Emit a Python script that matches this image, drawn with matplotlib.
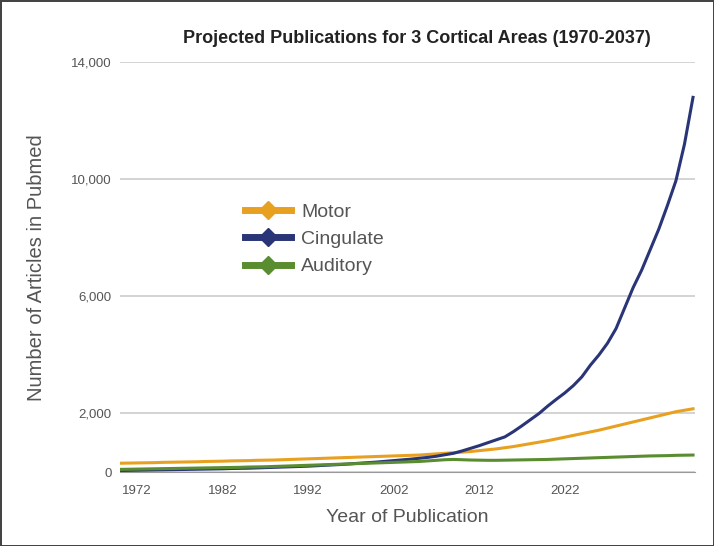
import numpy as np
import matplotlib.pyplot as plt

plt.rcParams['font.family'] = ['Liberation Sans', 'DejaVu Sans']

# data (values per year)
years = list(range(1970, 2038))
cingulate = [50, 55, 60, 65, 70, 75, 80, 85, 90, 95,
             100, 105, 110, 120, 125, 130, 140, 150, 160, 170,
             180, 190, 200, 215, 230, 245, 260, 280, 300, 320,
             340, 365, 390, 415, 440, 470, 500, 540, 590, 640,
             720, 810, 900, 1000, 1100, 1200, 1380, 1580, 1790, 2000,
             2250, 2480, 2700, 2950, 3250, 3650, 4000, 4400, 4900, 5600,
             6300, 6900, 7600, 8300, 9100, 9950, 11200, 12800]
motor = [300, 305, 310, 315, 320, 330, 335, 340, 345, 350,
         360, 365, 370, 380, 385, 390, 400, 405, 410, 420,
         430, 440, 450, 460, 470, 480, 490, 500, 510, 520,
         530, 540, 550, 560, 570, 580, 600, 620, 640, 660,
         680, 700, 730, 760, 790, 830, 870, 920, 970, 1020,
         1070, 1130, 1190, 1250, 1310, 1370, 1430, 1500, 1570, 1640,
         1710, 1780, 1850, 1920, 1990, 2060, 2110, 2160]
auditory = [90, 95, 100, 105, 110, 115, 120, 125, 130, 135,
            140, 145, 150, 155, 160, 170, 175, 180, 190, 200,
            210, 220, 230, 240, 250, 260, 270, 280, 290, 300,
            310, 320, 330, 340, 350, 360, 380, 400, 420, 430,
            420, 410, 405, 400, 400, 405, 410, 415, 420, 425,
            430, 440, 450, 460, 470, 480, 490, 500, 510, 520,
            530, 540, 550, 555, 560, 570, 575, 580]

y_ticks = [0, 2000, 6000, 10000, 14000]
x_ticks = [1972, 1982, 1992, 2002, 2012, 2022]

fig = plt.figure(figsize=(7.14, 5.46), dpi=100, edgecolor='#444444', linewidth=2)
ax = fig.add_axes([0.168, 0.1355, 0.805, 0.7505])

ax.plot(years, motor, color='#e8a020', lw=2.2, label='Motor')
ax.plot(years, cingulate, color='#2a3578', lw=2.2, label='Cingulate')
ax.plot(years, auditory, color='#5a8c30', lw=2.2, label='Auditory')

ax.set_xlim(1970, 2037.2)
ax.set_ylim(0, 14000)
ax.set_yticks(y_ticks)
ax.set_yticklabels([f'{v:,}' for v in y_ticks])
ax.set_xticks(x_ticks)
ax.tick_params(length=0, labelsize=9.5, colors='#555555')
ax.tick_params(axis='x', pad=9)
ax.tick_params(axis='y', pad=6)
ax.grid(axis='y', color='#cccccc', lw=1.2)
ax.set_axisbelow(True)
for s in ['top', 'right', 'left']:
    ax.spines[s].set_visible(False)
ax.spines['bottom'].set_color('#999999')

fig.text(0.584, 0.93, 'Projected Publications for 3 Cortical Areas (1970-2037)',
         fontsize=13, fontweight='bold', color='#222222', ha='center', va='center')
ax.set_xlabel('Year of Publication', fontsize=14, color='#555555', labelpad=9)
ax.set_ylabel('Number of Articles in Pubmed', fontsize=14.5, color='#555555', labelpad=18)

leg = ax.legend(loc='upper left', bbox_to_anchor=(0.2, 0.68), frameon=False,
                fontsize=14, labelcolor='#555555', handlelength=2.4,
                handletextpad=0.5, borderpad=0, labelspacing=0.5)
for h in leg.legend_handles:
    h.set_linewidth(5)
    h.set_marker('D')
    h.set_markersize(9)

fig.savefig('out.png', dpi=100)
